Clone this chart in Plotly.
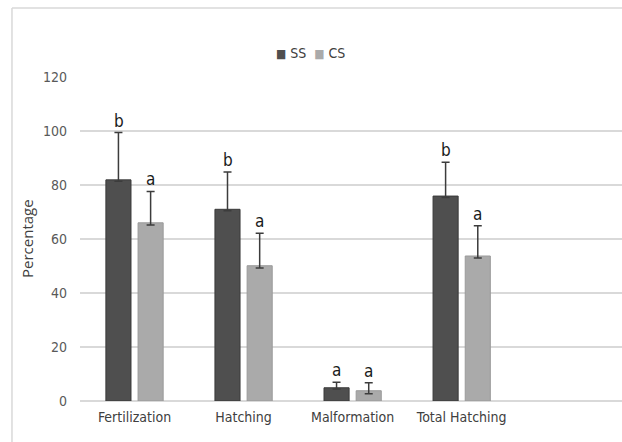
import plotly.graph_objects as go

categories = ["Fertilization", "Hatching", "Malformation", "Total Hatching"]
ss_values = [81.9, 71.0, 4.9, 75.9]
ss_err_plus = [17.5, 13.8, 2.0, 12.5]
ss_err_minus = [0.5, 0.5, 0.5, 0.5]
cs_values = [66.0, 50.1, 3.8, 53.7]
cs_err_plus = [11.6, 12.0, 3.0, 11.2]
cs_err_minus = [0.8, 0.8, 1.1, 0.7]
ss_letters = ["b", "b", "a", "b"]
cs_letters = ["a", "a", "a", "a"]
y_ticks = [0, 20, 40, 60, 80, 100, 120]
series_names = ["SS", "CS"]
series_colors = ["#4f4f4f", "#aaaaaa"]

FONT = "DejaVu Sans Condensed, Liberation Sans, sans-serif"

fig = go.Figure()
fig.add_trace(go.Bar(
    name=series_names[0], x=categories, y=ss_values, showlegend=False,
    marker=dict(color=series_colors[0], line=dict(color="#3a3a3a", width=1)),
    error_y=dict(type="data", symmetric=False, array=ss_err_plus, arrayminus=ss_err_minus,
                 color="#3c3c3c", thickness=1.5, width=4),
))
fig.add_trace(go.Bar(
    name=series_names[1], x=categories, y=cs_values, showlegend=False,
    marker=dict(color=series_colors[1], line=dict(color="#9a9a9a", width=1)),
    error_y=dict(type="data", symmetric=False, array=cs_err_plus, arrayminus=cs_err_minus,
                 color="#3c3c3c", thickness=1.5, width=4),
))

annotations = []
for i, c in enumerate(categories):
    annotations.append(dict(x=c, y=ss_values[i] + ss_err_plus[i], xref="x", yref="y",
                            text=ss_letters[i], showarrow=False, xshift=-16, yanchor="bottom",
                            font=dict(family=FONT, size=17, color="#1a1a1a")))
    annotations.append(dict(x=c, y=cs_values[i] + cs_err_plus[i], xref="x", yref="y",
                            text=cs_letters[i], showarrow=False, xshift=16, yanchor="bottom",
                            font=dict(family=FONT, size=17, color="#1a1a1a")))
annotations.append(dict(x=0, y=0.5, xref="paper", yref="paper", xshift=-53,
                        xanchor="center", yanchor="middle",
                        text="Percentage", textangle=-90, showarrow=False,
                        font=dict(family="Open Sans, sans-serif", size=15, color="#404040")))
# legend drawn as text
legend_text = "  ".join(
    f'<span style="color:{col};font-size:12px">■</span> {name}' for name, col in zip(series_names, series_colors))
annotations.append(dict(x=0, y=1, xref="paper", yref="paper", xshift=230, yshift=24,
                        xanchor="center", yanchor="middle", text=legend_text, showarrow=False,
                        font=dict(family=FONT, size=14, color="#404040")))

fig.update_layout(
    width=622, height=442,
    margin=dict(l=80, r=0, t=77, b=41),
    paper_bgcolor="white", plot_bgcolor="white",
    barmode="group", bargap=0.41, bargroupgap=0.22,
    font=dict(family=FONT, size=14, color="#595959"),
    showlegend=False,
    annotations=annotations,
    shapes=[
        dict(type="line", xref="paper", yref="paper", x0=-0.1255, x1=-0.1255, y0=1.213, y1=-0.3,
             line=dict(color="#d9d9d9", width=1.5)),
        dict(type="line", xref="paper", yref="paper", x0=-0.1255, x1=1.2, y0=1.213, y1=1.213,
             line=dict(color="#d9d9d9", width=1.5)),
    ],
)
fig.update_xaxes(range=[-0.5, 4.47], showgrid=False, showline=False, ticks="",
                 tickfont=dict(family=FONT, size=14, color="#404040"), ticklabelstandoff=6)
fig.update_yaxes(range=[0, 120], tickvals=y_ticks, showgrid=True, gridcolor="#d9d9d9", gridwidth=1.5,
                 zeroline=True, zerolinecolor="#d9d9d9", zerolinewidth=1.5, showline=False,
                 ticks="", tickfont=dict(family=FONT, size=14, color="#595959"), ticklabelstandoff=12)

fig.write_html("out.html", config={"displayModeBar": False},
               post_script="document.body.style.margin='0';document.body.style.overflow='hidden';")
